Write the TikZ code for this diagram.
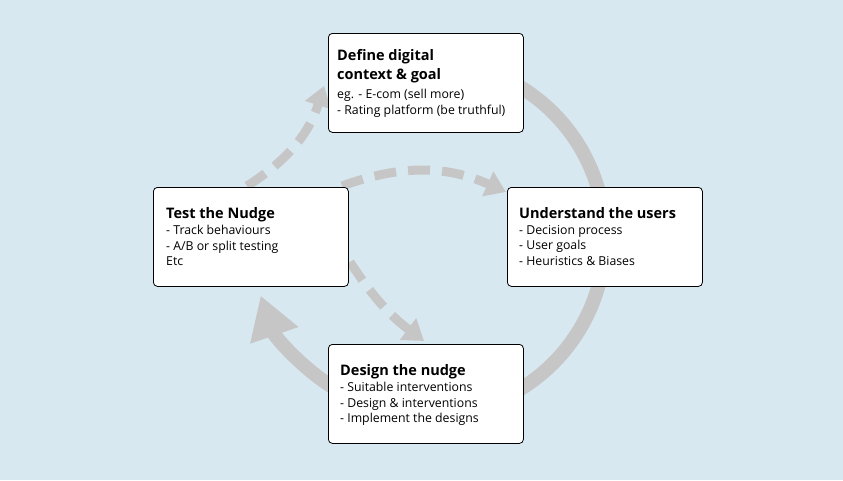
\documentclass[tikz,border=0pt]{standalone}
\usepackage{fontspec}
\setmainfont{Open Sans}
\usetikzlibrary{arrows.meta}
\definecolor{bgblue}{HTML}{D8E8F1}
\definecolor{flow}{HTML}{C6C6C6}
\tikzset{
  card/.style={draw=black, fill=white, rounded corners=4pt, line width=0.8pt,
    minimum width=195pt, minimum height=99pt, anchor=north west},
  cardtitle/.style={anchor=north west, align=left, inner sep=0pt,
    font=\fontsize{14.5}{19}\selectfont\bfseries},
  cardtext/.style={anchor=north west, align=left, inner sep=0pt,
    font=\fontsize{12.3}{15.5}\selectfont},
  loop/.style={flow, line width=14pt},
  probe/.style={flow, line width=9pt, dash pattern=on 22pt off 12pt,
    -{Triangle[width=26pt,length=20pt]}}
}
\begin{document}
\begin{tikzpicture}[x=1pt,y=-1pt]
  \fill[bgblue] (0,0) rectangle (843,480);
  \coordinate (C) at (428,238);
  % main cycle
  \draw[loop, -{Triangle[width=48pt,length=42pt]}]
    (C) ++(-60:177) arc[start angle=-60, end angle=161, radius=177];
  % dashed shortcuts
  \coordinate (la) at (247,186);
  \coordinate (lb) at (324,86);
  \coordinate (ma) at (342,186);
  \coordinate (mb) at (506,192);
  \coordinate (na) at (350,262);
  \coordinate (nb) at (424,341);
  \draw[probe] (la) to[bend right=20] (lb);
  \draw[probe] (ma) to[bend left=22] (mb);
  \draw[probe] (na) to[bend right=10] (nb);
  % cards
  \node[card] (define) at (328,33) {};
  \node[card] (users) at (507,187) {};
  \node[card] (test) at (153,187) {};
  \node[card] (design) at (328,344) {};
  \node[cardtitle] (defineh) at (337,49) {Define digital\\context \& goal};
  \node[cardtext] (definet) at (337,89) {eg. - E-com (sell more)\\- Rating platform (be truthful)};
  \node[cardtitle] (usersh) at (519,207) {Understand the users};
  \node[cardtext] (userst) at (519,225) {- Decision process\\- User goals\\- Heuristics \& Biases};
  \node[cardtitle] (testh) at (166,207) {Test the Nudge};
  \node[cardtext] (testt) at (166,225) {- Track behaviours\\- A/B or split testing\\Etc};
  \node[cardtitle] (designh) at (340,364) {Design the nudge};
  \node[cardtext] (designt) at (340,382) {- Suitable interventions\\- Design \& interventions\\- Implement the designs};
\end{tikzpicture}
\end{document}
